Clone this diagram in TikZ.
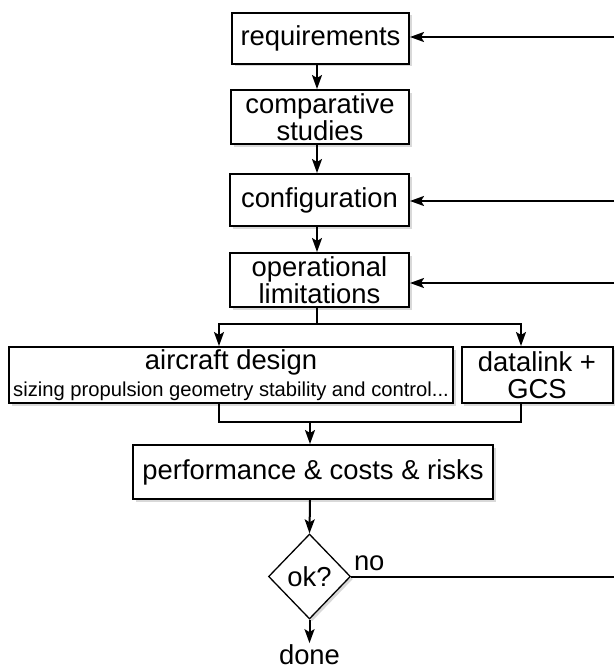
\documentclass[tikz,border=0pt]{standalone}
\usepackage{fontspec}
\setmainfont{Liberation Sans}
\usetikzlibrary{arrows.meta,shapes.geometric,shadows}
\begin{document}
\begin{tikzpicture}[x=1pt,y=-1pt,
  line width=2pt,
  big/.style={font=\fontsize{27.4}{27.5}\selectfont},
  shade/.style={drop shadow={shadow xshift=2.5pt, shadow yshift=-2.5pt, opacity=0.3}},
  box/.style={draw, fill=white, inner sep=0pt, align=center, big, shade},
  arr/.style={-{Stealth[length=14pt,width=10pt,inset=3pt]}},
]
\useasboundingbox (0,0) rectangle (614,669);
\node[box, minimum width=177pt, minimum height=51pt] (req) at (320.5,38.5) {requirements};
\node[box, minimum width=178pt, minimum height=54pt] (comp) at (320,117) {comparative\\studies};
\node[box, minimum width=179pt, minimum height=52pt] (conf) at (319.5,200) {configuration};
\node[box, minimum width=179pt, minimum height=54pt] (oper) at (319.5,280) {operational\\limitations};
\node[box, minimum width=444pt, minimum height=56pt] (air) at (231,375) {aircraft design\\{\fontsize{20.2}{20}\selectfont sizing propulsion geometry stability and control...}};
\node[box, minimum width=151pt, minimum height=56pt] (data) at (537,375) {datalink +\\GCS};
\node[box, minimum width=360pt, minimum height=54pt] (perf) at (313,472) {performance \& costs \& risks};
\node[draw, diamond, fill=white, shade, line width=1.3pt, minimum width=82pt, minimum height=85pt, inner sep=0pt, big] (ok) at (309.5,576.5) {ok?};
\node[big, inner sep=0pt, anchor=base] (done) at (309.5,664) {done};
\node[big, inner sep=0pt, anchor=base west] (no) at (353,570) {no};
\coordinate (sp) at (317,0);
\coordinate (split) at (317,324);
\coordinate (lx) at (219,0);
\coordinate (rx) at (521,0);
\coordinate (merge) at (310,422);
\coordinate (edge) at (614,0);
\coordinate (f1) at (614,37);
\coordinate (f2) at (614,201);
\coordinate (f3) at (614,283);
\draw[arr] (req.south -| sp) -- (comp.north -| sp);
\draw[arr] (comp.south -| sp) -- (conf.north -| sp);
\draw[arr] (conf.south -| sp) -- (oper.north -| sp);
\draw[arr] (oper.south -| sp) -- (split) -- (split -| lx) -- (air.north -| lx);
\draw[arr] (split) -- (split -| rx) -- (data.north -| rx);
\draw (air.south -| lx) |- (merge -| rx) -- (data.south -| rx);
\draw[arr] (merge) -- (perf.north -| merge);
\draw[arr] (perf.south -| merge) -- (ok.north);
\draw[arr] (ok.south) -- (done.north);
\draw (ok.east) -- (ok.east -| edge);
\draw[arr] (f1) -- (req.east |- f1);
\draw[arr] (f2) -- (conf.east |- f2);
\draw[arr] (f3) -- (oper.east |- f3);
\end{tikzpicture}
\end{document}
